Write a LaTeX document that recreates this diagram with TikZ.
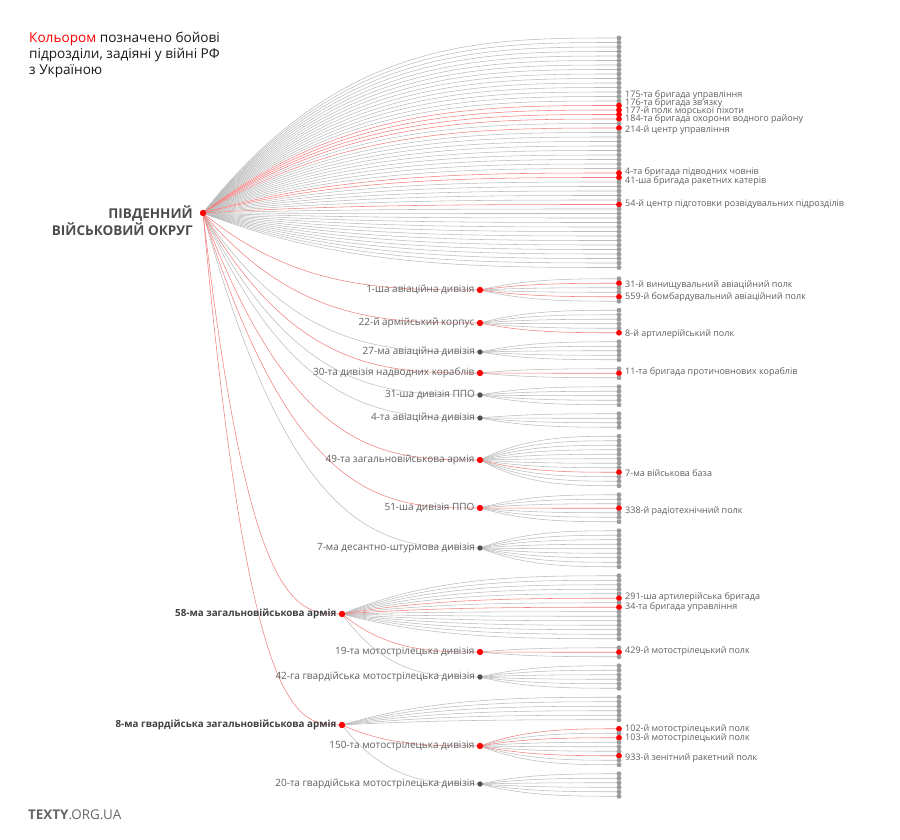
\documentclass[tikz,border=0pt]{standalone}
\usepackage{fontspec}
\setmainfont{Open Sans}
\usetikzlibrary{calc,backgrounds}

\definecolor{hot}{RGB}{255,0,0}
\definecolor{hotline}{RGB}{242,128,128}
\definecolor{coldline}{RGB}{188,188,188}
\definecolor{leafgrey}{RGB}{155,155,155}
\definecolor{textgrey}{RGB}{95,95,95}
\definecolor{dotgrey}{RGB}{80,80,80}

\tikzset{
  leaf/.style={circle, fill=leafgrey, inner sep=0pt, minimum size=4.9pt},
  redleaf/.style={circle, fill=hot, inner sep=0pt, minimum size=5.8pt},
  unit/.style={circle, fill=dotgrey, inner sep=0pt, minimum size=5.4pt},
  redunit/.style={circle, fill=hot, inner sep=0pt, minimum size=6.4pt},
  edge/.style={draw=coldline, line width=0.55pt},
  rededge/.style={draw=hotline, line width=0.55pt},
  unitlabel/.style={anchor=east, inner sep=2pt, text=textgrey, font=\fontsize{10}{12}\selectfont},
  armylabel/.style={anchor=east, inner sep=2pt, text=black!75, font=\fontsize{9.8}{12}\selectfont\bfseries},
  leaflabel/.style={anchor=west, inner sep=0pt, text=textgrey, font=\fontsize{9}{10}\selectfont},
}

% curve from #1 to #2, x linear, ends level
\newcommand\link[3]{%
  \draw[#3] let \p1=(#1.center), \p2=(#2.center) in
    (\p1) .. controls ({\x1+(\x2-\x1)/3},\y2) and ({\x1+2*(\x2-\x1)/3},\y2) .. (\p2);}

% parent / first y / count / red leaves
\def\leafgroups{root/38/52/{15,16,17,18,20,30,31,37},
  av1/278.75/6/{1,4}, ak22/310.25/6/{5}, av27/341.75/5/{},
  dnk30/368.75/3/{1}, ppo31/386.75/5/{}, av4/413.75/4/{},
  za49/436.25/12/{8}, ppo51/494.75/7/{3}, dshd7/530.75/9/{},
  za58/575.75/15/{5,7}, msd19/647.75/3/{1}, gmsd42/665.75/6/{},
  gza8/697.25/6/{}, msd150/728.75/9/{0,2,6}, gmsd20/773.75/6/{}}

\begin{document}
\begin{tikzpicture}[x=1pt,y=-1pt]
\useasboundingbox (0,0) rectangle (900,840);

% title
\node[anchor=north west, align=left, inner sep=0pt, text=black!90, font=\fontsize{13.6}{16}\selectfont] (title) at (29,32)
  {\textcolor{hot}{Кольором} позначено бойові\\підрозділи, задіяні у війні РФ\\з Україною};

% units
\node[redunit] (root) at (203,213) {};
\node[anchor=east, align=right, inner sep=0pt, text=black!70, font=\fontsize{13.5}{17}\selectfont\bfseries] (root-t) at (193,220.5) {ПІВДЕННИЙ\\ВІЙСЬКОВИЙ ОКРУГ};

\node[redunit] (av1) at (480,290) {};
\node[redunit] (ak22) at (480,323) {};
\node[unit] (av27) at (480,352) {};
\node[redunit] (dnk30) at (480,373) {};
\node[unit] (ppo31) at (480,395) {};
\node[unit] (av4) at (480,418) {};
\node[redunit] (za49) at (480,460) {};
\node[redunit] (ppo51) at (480,508) {};
\node[unit] (dshd7) at (480,548) {};
\node[redunit] (za58) at (342,614) {};
\node[redunit] (msd19) at (480,652) {};
\node[unit] (gmsd42) at (480,677) {};
\node[redunit] (gza8) at (342,725) {};
\node[redunit] (msd150) at (480,746) {};
\node[unit] (gmsd20) at (480,784) {};

\node[unitlabel] (av1-t) at (av1.west) {1-ша авіаційна дивізія};
\node[unitlabel] (ak22-t) at (ak22.west) {22-й армійський корпус};
\node[unitlabel] (av27-t) at (av27.west) {27-ма авіаційна дивізія};
\node[unitlabel] (dnk30-t) at (dnk30.west) {30-та дивізія надводних кораблів};
\node[unitlabel] (ppo31-t) at (ppo31.west) {31-ша дивізія ППО};
\node[unitlabel] (av4-t) at (av4.west) {4-та авіаційна дивізія};
\node[unitlabel] (za49-t) at (za49.west) {49-та загальновійськова армія};
\node[unitlabel] (ppo51-t) at (ppo51.west) {51-ша дивізія ППО};
\node[unitlabel] (dshd7-t) at (dshd7.west) {7-ма десантно-штурмова дивізія};
\node[armylabel] (za58-t) at (za58.west) {58-ма загальновійськова армія};
\node[unitlabel] (msd19-t) at (msd19.west) {19-та мотострілецька дивізія};
\node[unitlabel] (gmsd42-t) at (gmsd42.west) {42-га гвардійська мотострілецька дивізія};
\node[armylabel] (gza8-t) at (gza8.west) {8-ма гвардійська загальновійськова армія};
\node[unitlabel] (msd150-t) at (msd150.west) {150-та мотострілецька дивізія};
\node[unitlabel] (gmsd20-t) at (gmsd20.west) {20-та гвардійська мотострілецька дивізія};

% leaves
\foreach \u/\s/\n/\r in \leafgroups {
  \foreach \k in \r {\expandafter\xdef\csname red@\u @\k\endcsname{}}
  \pgfmathtruncatemacro\last{\n-1}
  \foreach \i in {0,...,\last} {
    \ifcsname red@\u @\i\endcsname \def\st{redleaf}\else\def\st{leaf}\fi
    \node[\st] (\u-\i) at (619,{\s+4.5*\i}) {};
  }
}

% leaf texts
\node[leaflabel] (t175) at (625,95) {175-та бригада управління};
\node[leaflabel] (t176) at (625,103) {176-та бригада зв'язку};
\node[leaflabel] (t177) at (625,111) {177-й полк морської піхоти};
\node[leaflabel] (t184) at (625,119) {184-та бригада охорони водного району};
\node[leaflabel] (t214) at (625,130) {214-й центр управління};
\node[leaflabel] (t4) at (625,172) {4-та бригада підводних човнів};
\node[leaflabel] (t41) at (625,181) {41-ша бригада ракетних катерів};
\node[leaflabel] (t54) at (625,204) {54-й центр підготовки розвідувальних підрозділів};
\node[leaflabel] (t31) at (625,285) {31-й винищувальний авіаційний полк};
\node[leaflabel] (t559) at (625,297) {559-й бомбардувальний авіаційний полк};
\node[leaflabel] (t8) at (625,334) {8-й артилерійський полк};
\node[leaflabel] (t11) at (625,372) {11-та бригада протичовнових кораблів};
\node[leaflabel] (t7) at (625,473) {7-ма військова база};
\node[leaflabel] (t338) at (625,511) {338-й радіотехнічний полк};
\node[leaflabel] (t291) at (625,597) {291-ша артилерійська бригада};
\node[leaflabel] (t34) at (625,607) {34-та бригада управління};
\node[leaflabel] (t429) at (625,651) {429-й мотострілецький полк};
\node[leaflabel] (t102) at (625,729) {102-й мотострілецький полк};
\node[leaflabel] (t103) at (625,738) {103-й мотострілецький полк};
\node[leaflabel] (t933) at (625,758) {933-й зенітний ракетний полк};

\node[anchor=west, inner sep=0pt, text=black!60, font=\fontsize{13.4}{15}\selectfont] (site) at (28,815) {\textbf{TEXTY}.ORG.UA};

\begin{pgfonlayer}{background}
\foreach \pass in {0,1} {
  \foreach \u/\s/\n/\r in \leafgroups {
    \pgfmathtruncatemacro\last{\n-1}
    \foreach \i in {0,...,\last} {
      \ifcsname red@\u @\i\endcsname \def\isr{1}\else\def\isr{0}\fi
      \ifnum\isr=\pass
        \ifnum\pass=1 \link{\u}{\u-\i}{rededge}\else \link{\u}{\u-\i}{edge}\fi
      \fi
    }
  }
}
\link{root}{av27}{edge}
\link{root}{ppo31}{edge}
\link{root}{av4}{edge}
\link{root}{dshd7}{edge}
\link{za58}{gmsd42}{edge}
\link{gza8}{gmsd20}{edge}
\link{root}{av1}{rededge}
\link{root}{ak22}{rededge}
\link{root}{dnk30}{rededge}
\link{root}{za49}{rededge}
\link{root}{ppo51}{rededge}
\link{root}{za58}{rededge}
\link{root}{gza8}{rededge}
\link{za58}{msd19}{rededge}
\link{gza8}{msd150}{rededge}
\end{pgfonlayer}
\end{tikzpicture}
\end{document}
